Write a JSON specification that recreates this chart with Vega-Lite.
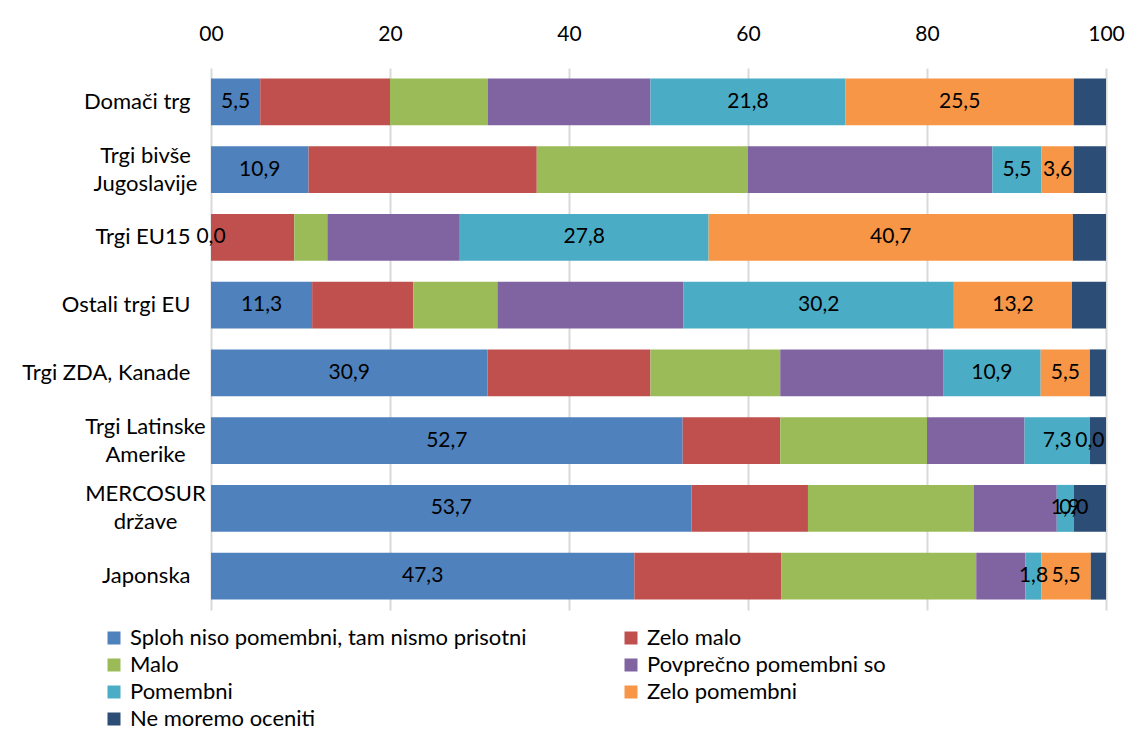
{
  "$schema": "https://vega.github.io/schema/vega-lite/v6.json",
  "width": 895,
  "height": 542,
  "autosize": {"type": "none"},
  "padding": {"left": 211, "top": 68, "right": 27, "bottom": 134},
  "background": "white",
  "config": {
    "font": "Lato",
    "view": {"stroke": null},
    "locale": {
      "number": {"decimal": ",", "thousands": ".", "grouping": [3], "currency": ["", " €"]}
    }
  },
  "data": {
    "values": [
      {"trg": "Domači trg", "k": 0, "serija": "Sploh niso pomembni, tam nismo prisotni", "v": 5.5},
      {"trg": "Domači trg", "k": 1, "serija": "Zelo malo", "v": 14.5},
      {"trg": "Domači trg", "k": 2, "serija": "Malo", "v": 10.9},
      {"trg": "Domači trg", "k": 3, "serija": "Povprečno pomembni so", "v": 18.2},
      {"trg": "Domači trg", "k": 4, "serija": "Pomembni", "v": 21.8},
      {"trg": "Domači trg", "k": 5, "serija": "Zelo pomembni", "v": 25.5},
      {"trg": "Domači trg", "k": 6, "serija": "Ne moremo oceniti", "v": 3.6},

      {"trg": "Trgi bivše Jugoslavije", "k": 0, "serija": "Sploh niso pomembni, tam nismo prisotni", "v": 10.9},
      {"trg": "Trgi bivše Jugoslavije", "k": 1, "serija": "Zelo malo", "v": 25.5},
      {"trg": "Trgi bivše Jugoslavije", "k": 2, "serija": "Malo", "v": 23.6},
      {"trg": "Trgi bivše Jugoslavije", "k": 3, "serija": "Povprečno pomembni so", "v": 27.3},
      {"trg": "Trgi bivše Jugoslavije", "k": 4, "serija": "Pomembni", "v": 5.5},
      {"trg": "Trgi bivše Jugoslavije", "k": 5, "serija": "Zelo pomembni", "v": 3.6},
      {"trg": "Trgi bivše Jugoslavije", "k": 6, "serija": "Ne moremo oceniti", "v": 3.6},

      {"trg": "Trgi EU15", "k": 0, "serija": "Sploh niso pomembni, tam nismo prisotni", "v": 0.0},
      {"trg": "Trgi EU15", "k": 1, "serija": "Zelo malo", "v": 9.3},
      {"trg": "Trgi EU15", "k": 2, "serija": "Malo", "v": 3.7},
      {"trg": "Trgi EU15", "k": 3, "serija": "Povprečno pomembni so", "v": 14.8},
      {"trg": "Trgi EU15", "k": 4, "serija": "Pomembni", "v": 27.8},
      {"trg": "Trgi EU15", "k": 5, "serija": "Zelo pomembni", "v": 40.7},
      {"trg": "Trgi EU15", "k": 6, "serija": "Ne moremo oceniti", "v": 3.7},

      {"trg": "Ostali trgi EU", "k": 0, "serija": "Sploh niso pomembni, tam nismo prisotni", "v": 11.3},
      {"trg": "Ostali trgi EU", "k": 1, "serija": "Zelo malo", "v": 11.3},
      {"trg": "Ostali trgi EU", "k": 2, "serija": "Malo", "v": 9.4},
      {"trg": "Ostali trgi EU", "k": 3, "serija": "Povprečno pomembni so", "v": 20.8},
      {"trg": "Ostali trgi EU", "k": 4, "serija": "Pomembni", "v": 30.2},
      {"trg": "Ostali trgi EU", "k": 5, "serija": "Zelo pomembni", "v": 13.2},
      {"trg": "Ostali trgi EU", "k": 6, "serija": "Ne moremo oceniti", "v": 3.8},

      {"trg": "Trgi ZDA, Kanade", "k": 0, "serija": "Sploh niso pomembni, tam nismo prisotni", "v": 30.9},
      {"trg": "Trgi ZDA, Kanade", "k": 1, "serija": "Zelo malo", "v": 18.2},
      {"trg": "Trgi ZDA, Kanade", "k": 2, "serija": "Malo", "v": 14.5},
      {"trg": "Trgi ZDA, Kanade", "k": 3, "serija": "Povprečno pomembni so", "v": 18.2},
      {"trg": "Trgi ZDA, Kanade", "k": 4, "serija": "Pomembni", "v": 10.9},
      {"trg": "Trgi ZDA, Kanade", "k": 5, "serija": "Zelo pomembni", "v": 5.5},
      {"trg": "Trgi ZDA, Kanade", "k": 6, "serija": "Ne moremo oceniti", "v": 1.8},

      {"trg": "Trgi Latinske Amerike", "k": 0, "serija": "Sploh niso pomembni, tam nismo prisotni", "v": 52.7},
      {"trg": "Trgi Latinske Amerike", "k": 1, "serija": "Zelo malo", "v": 10.9},
      {"trg": "Trgi Latinske Amerike", "k": 2, "serija": "Malo", "v": 16.4},
      {"trg": "Trgi Latinske Amerike", "k": 3, "serija": "Povprečno pomembni so", "v": 10.9},
      {"trg": "Trgi Latinske Amerike", "k": 4, "serija": "Pomembni", "v": 7.3},
      {"trg": "Trgi Latinske Amerike", "k": 5, "serija": "Zelo pomembni", "v": 0.0},
      {"trg": "Trgi Latinske Amerike", "k": 6, "serija": "Ne moremo oceniti", "v": 1.8},

      {"trg": "MERCOSUR države", "k": 0, "serija": "Sploh niso pomembni, tam nismo prisotni", "v": 53.7},
      {"trg": "MERCOSUR države", "k": 1, "serija": "Zelo malo", "v": 13.0},
      {"trg": "MERCOSUR države", "k": 2, "serija": "Malo", "v": 18.5},
      {"trg": "MERCOSUR države", "k": 3, "serija": "Povprečno pomembni so", "v": 9.3},
      {"trg": "MERCOSUR države", "k": 4, "serija": "Pomembni", "v": 1.9},
      {"trg": "MERCOSUR države", "k": 5, "serija": "Zelo pomembni", "v": 0.0},
      {"trg": "MERCOSUR države", "k": 6, "serija": "Ne moremo oceniti", "v": 3.7},

      {"trg": "Japonska", "k": 0, "serija": "Sploh niso pomembni, tam nismo prisotni", "v": 47.3},
      {"trg": "Japonska", "k": 1, "serija": "Zelo malo", "v": 16.4},
      {"trg": "Japonska", "k": 2, "serija": "Malo", "v": 21.8},
      {"trg": "Japonska", "k": 3, "serija": "Povprečno pomembni so", "v": 5.5},
      {"trg": "Japonska", "k": 4, "serija": "Pomembni", "v": 1.8},
      {"trg": "Japonska", "k": 5, "serija": "Zelo pomembni", "v": 5.5},
      {"trg": "Japonska", "k": 6, "serija": "Ne moremo oceniti", "v": 1.8}
    ]
  },
  "transform": [
    {"stack": "v", "groupby": ["trg"], "sort": [{"field": "k", "order": "ascending"}], "as": ["x0", "x1"], "offset": "zero"},
    {"calculate": "(datum.x0 + datum.x1) / 2", "as": "xm"}
  ],
  "encoding": {
    "y": {
      "field": "trg",
      "type": "nominal",
      "sort": null,
      "title": null,
      "scale": {"paddingInner": 0.307, "paddingOuter": 0.1535},
      "axis": {
        "domain": false,
        "ticks": false,
        "grid": false,
        "labelFontSize": 22,
        "labelColor": "#000000",
        "labelLineHeight": 28,
        "labelLimit": 300,
        "labelAlign": {
          "condition": {"test": "datum.value == 'Trgi bivše Jugoslavije' || datum.value == 'Trgi Latinske Amerike' || datum.value == 'MERCOSUR države'", "value": "center"},
          "value": "right"
        },
        "labelPadding": {
          "condition": {"test": "datum.value == 'Trgi bivše Jugoslavije' || datum.value == 'Trgi Latinske Amerike' || datum.value == 'MERCOSUR države'", "value": 66},
          "value": 21
        },
        "labelOffset": {
          "condition": {"test": "datum.value == 'Trgi bivše Jugoslavije' || datum.value == 'Trgi Latinske Amerike' || datum.value == 'MERCOSUR države'", "value": -14},
          "value": 0
        },
        "labelExpr": "datum.value == 'Trgi bivše Jugoslavije' ? ['Trgi bivše', 'Jugoslavije'] : datum.value == 'Trgi Latinske Amerike' ? ['Trgi Latinske', 'Amerike'] : datum.value == 'MERCOSUR države' ? ['MERCOSUR', 'države'] : datum.label"
      }
    }
  },
  "layer": [
    {
      "mark": {"type": "bar"},
      "encoding": {
        "x": {
          "field": "x0",
          "type": "quantitative",
          "title": null,
          "scale": {"domain": [0, 100], "nice": false, "clamp": true},
          "axis": {
            "orient": "top",
            "values": [0, 20, 40, 60, 80, 100],
            "domain": false,
            "ticks": false,
            "grid": true,
            "gridColor": "#d9d9d9",
            "gridWidth": 2,
            "labelFontSize": 21,
            "labelColor": "#000000",
            "labelPadding": 24,
            "labelFlush": false,
            "labelExpr": "datum.value == 0 ? '00' : datum.label"
          }
        },
        "x2": {"field": "x1"},
        "color": {
          "field": "serija",
          "type": "nominal",
          "scale": {
            "domain": [
              "Sploh niso pomembni, tam nismo prisotni",
              "Zelo malo",
              "Malo",
              "Povprečno pomembni so",
              "Pomembni",
              "Zelo pomembni",
              "Ne moremo oceniti"
            ],
            "range": ["#4F81BD", "#C0504D", "#9BBB59", "#8064A2", "#4BACC6", "#F79646", "#2C4D75"]
          },
          "legend": {
            "title": null,
            "orient": "none",
            "direction": "horizontal",
            "legendX": -108,
            "legendY": 559,
            "columns": 2,
            "columnPadding": 93,
            "rowPadding": 5,
            "symbolType": "square",
            "symbolSize": 169,
            "symbolStrokeWidth": 0,
            "labelFontSize": 22,
            "labelColor": "#000000",
            "labelOffset": 5,
            "labelLimit": 500
          }
        },
        "order": {"field": "k", "type": "quantitative"}
      }
    },
    {
      "transform": [{"filter": "datum.k == 0 || datum.k == 4 || datum.k == 5"}],
      "mark": {"type": "text", "fontSize": 21, "color": "#000000", "baseline": "middle", "align": "center"},
      "encoding": {
        "x": {"field": "xm", "type": "quantitative"},
        "text": {"field": "v", "type": "quantitative", "format": ".1f"}
      }
    }
  ]
}
